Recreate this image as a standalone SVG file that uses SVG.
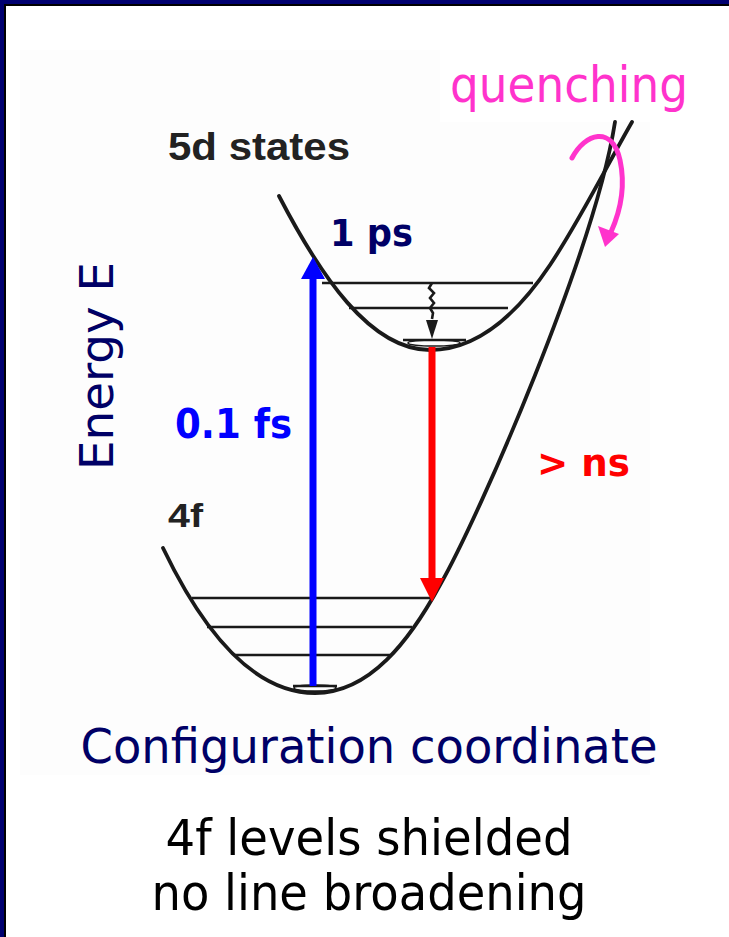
<svg xmlns="http://www.w3.org/2000/svg" width="729" height="937" viewBox="0 0 729 937">
<style>
.curve{fill:none;stroke:#1a1a1a;stroke-width:3.8;stroke-linecap:round}
.lvl{fill:none;stroke:#1a1a1a;stroke-width:2.6}
.scan{font-family:"Liberation Sans",Arial,sans-serif;font-weight:bold;fill:#222}
.tah{font-family:"DejaVu Sans","Liberation Sans",sans-serif}
</style>
<rect x="0" y="0" width="729" height="937" fill="#ffffff"/>
<rect x="20" y="50" width="630" height="725" fill="#fdfdfd"/>
<rect x="440" y="40" width="220" height="82" fill="#ffffff"/>
<rect x="0" y="0" width="729" height="4" fill="#000070"/>
<rect x="0" y="0" width="4" height="937" fill="#000070"/>
<rect x="4" y="4" width="725" height="2" fill="#000000"/>
<rect x="4" y="4" width="2" height="933" fill="#000000"/>

<g id="well-5d">
<path class="curve" d="M279,196 C320,275 370,350 430,350 C480,350 520,310 550,265 S610,160 632,122"/>
<line class="lvl" x1="322" y1="283" x2="533" y2="283"/>
<line class="lvl" x1="349" y1="308" x2="508" y2="308"/>
<line class="lvl" x1="403" y1="340" x2="466" y2="340"/>
<ellipse cx="434" cy="343" rx="26" ry="3" fill="none" stroke="#1a1a1a" stroke-width="1.5"/>
<text class="scan" x="168" y="160" font-size="38" textLength="182" lengthAdjust="spacingAndGlyphs">5d  states</text>
</g>

<g id="well-4f">
<path class="curve" d="M163,548 C200,625 250,693 315,693 C370,693 410,640 440,585 C480,515 595,250 615,122"/>
<line class="lvl" x1="192" y1="598" x2="432" y2="598"/>
<line class="lvl" x1="207" y1="627" x2="412" y2="627"/>
<line class="lvl" x1="235" y1="655" x2="390" y2="655"/>
<line class="lvl" x1="293" y1="686" x2="337" y2="686"/>
<ellipse cx="315" cy="688" rx="21" ry="3" fill="none" stroke="#1a1a1a" stroke-width="1.5"/>
<text class="scan" x="168" y="527" font-size="33" textLength="35" lengthAdjust="spacingAndGlyphs">4f</text>
</g>

<g id="connectors">
<path d="M432,283 l-3,5 l5,5 l-4,5 l4,5 l-4,5 l3,5 l-1,6" fill="none" stroke="#1a1a1a" stroke-width="2.6"/>
<polygon points="426,320 438,320 432,339" fill="#1a1a1a"/>
<rect x="309.5" y="276" width="7" height="410" fill="#0000ff"/>
<polygon points="301,279 325,279 313,257" fill="#0000ff"/>
<rect x="428.5" y="347" width="7" height="234" fill="#ff0000"/>
<polygon points="420,578 444,578 432,602" fill="#ff0000"/>
<path d="M572,158 C585,133 612,125 620,160 C626,188 620,212 611,232" fill="none" stroke="#ff33cc" stroke-width="5" stroke-linecap="round"/>
<polygon points="598,226 619,234 605,247" fill="#ff33cc"/>
</g>

<g id="labels">
<text class="tah" x="330" y="246" font-size="38" font-weight="bold" fill="#000066" textLength="83" lengthAdjust="spacingAndGlyphs">1 ps</text>
<text class="tah" x="175" y="438" font-size="40" font-weight="bold" fill="#0000ff" textLength="117" lengthAdjust="spacingAndGlyphs">0.1 fs</text>
<text class="tah" x="537" y="476" font-size="38" font-weight="bold" fill="#ff0000" textLength="93" lengthAdjust="spacingAndGlyphs">&gt; ns</text>
<text class="tah" x="450" y="102" font-size="50" fill="#ff33cc" textLength="238" lengthAdjust="spacingAndGlyphs">quenching</text>
<text class="tah" transform="translate(113,366) rotate(-90)" x="0" y="0" font-size="46" fill="#000066" text-anchor="middle" textLength="208" lengthAdjust="spacingAndGlyphs">Energy E</text>
<text class="tah" x="369" y="763" font-size="48" fill="#000066" text-anchor="middle" textLength="577" lengthAdjust="spacingAndGlyphs">Configuration coordinate</text>
<text class="tah" x="369" y="855" font-size="50" fill="#000000" text-anchor="middle" textLength="407" lengthAdjust="spacingAndGlyphs">4f levels shielded</text>
<text class="tah" x="369" y="910" font-size="50" fill="#000000" text-anchor="middle" textLength="435" lengthAdjust="spacingAndGlyphs">no line broadening</text>
</g>
</svg>
